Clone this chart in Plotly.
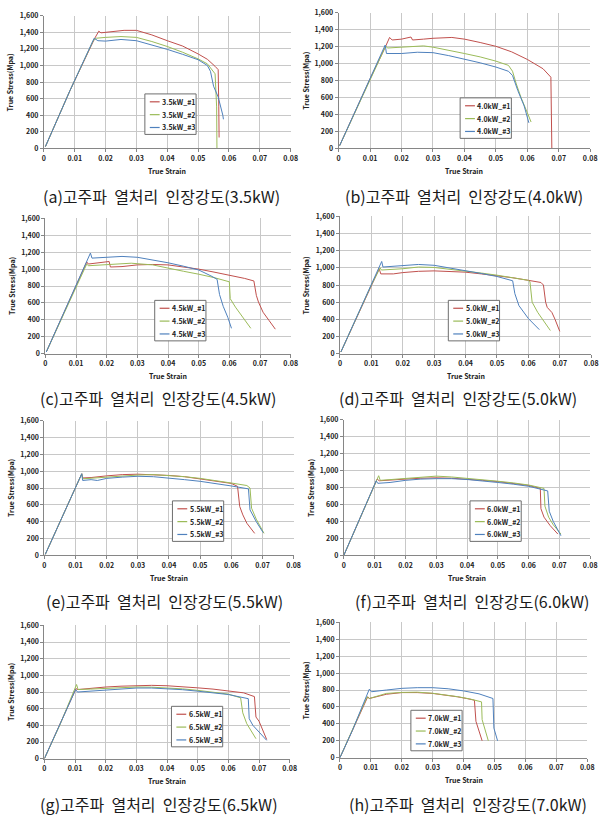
import plotly.graph_objects as go

# ---------------- data ----------------
panel_labels = ["(a)", "(b)", "(c)", "(d)", "(e)", "(f)", "(g)", "(h)"]
power_labels = ["3.5kW", "4.0kW", "4.5kW", "5.0kW", "5.5kW", "6.0kW", "6.5kW", "7.0kW"]
specimen_labels = ["#1", "#2", "#3"]
x_ticks = [0, 0.01, 0.02, 0.03, 0.04, 0.05, 0.06, 0.07, 0.08]
y_ticks = [0, 200, 400, 600, 800, 1000, 1200, 1400, 1600]
x_title = "True Strain"
y_title = "True Stress(Mpa)"

# 3.5 kW
strain_35_1 = [0.0005, 0.008, 0.0085, 0.0165, 0.0178, 0.0185, 0.022, 0.026, 0.030, 0.035, 0.040, 0.045, 0.050, 0.053, 0.0555, 0.0565, 0.0567, 0.0568]
stress_35_1 = [20, 650, 700, 1330, 1415, 1395, 1405, 1425, 1425, 1370, 1300, 1235, 1140, 1075, 990, 950, 500, 130]
strain_35_2 = [0.0005, 0.008, 0.0085, 0.016, 0.017, 0.02, 0.025, 0.03, 0.035, 0.04, 0.045, 0.05, 0.053, 0.0555, 0.056, 0.0561]
stress_35_2 = [20, 650, 700, 1300, 1330, 1340, 1350, 1340, 1290, 1230, 1160, 1080, 1020, 900, 500, 0]
strain_35_3 = [0.0005, 0.008, 0.0085, 0.0163, 0.0175, 0.02, 0.025, 0.03, 0.035, 0.04, 0.045, 0.05, 0.053, 0.054, 0.055, 0.0565, 0.058, 0.0582]
stress_35_3 = [20, 650, 700, 1330, 1300, 1295, 1315, 1300, 1250, 1195, 1135, 1070, 1000, 930, 750, 620, 400, 350]

# 4.0 kW
strain_40_1 = [0.0003, 0.005, 0.01, 0.015, 0.0162, 0.017, 0.02, 0.023, 0.0235, 0.027, 0.03, 0.036, 0.04, 0.045, 0.05, 0.055, 0.06, 0.065, 0.0675, 0.0678]
stress_40_1 = [30, 420, 820, 1210, 1310, 1280, 1290, 1315, 1280, 1290, 1300, 1310, 1290, 1250, 1205, 1140, 1050, 940, 840, 0]
strain_40_2 = [0.0003, 0.01, 0.015, 0.0155, 0.02, 0.027, 0.03, 0.035, 0.04, 0.045, 0.05, 0.054, 0.0553, 0.0565, 0.058, 0.06, 0.0612]
stress_40_2 = [30, 820, 1210, 1185, 1195, 1210, 1195, 1160, 1120, 1080, 1030, 980, 910, 760, 600, 420, 310]
strain_40_3 = [0.0003, 0.01, 0.0148, 0.0152, 0.02, 0.025, 0.03, 0.035, 0.04, 0.045, 0.05, 0.054, 0.0553, 0.057, 0.059, 0.0605]
stress_40_3 = [30, 820, 1220, 1120, 1120, 1135, 1130, 1095, 1055, 1010, 960, 910, 860, 680, 500, 300]

# 4.5 kW
strain_45_1 = [0.0003, 0.005, 0.01, 0.0135, 0.014, 0.02, 0.0208, 0.0212, 0.025, 0.03, 0.035, 0.04, 0.045, 0.05, 0.055, 0.06, 0.065, 0.068, 0.0688, 0.0695, 0.071, 0.073, 0.075]
stress_45_1 = [20, 400, 800, 1085, 1060, 1085, 1090, 1025, 1030, 1050, 1055, 1050, 1025, 1000, 965, 930, 890, 860, 690, 610, 490, 390, 290]
strain_45_2 = [0.0003, 0.01, 0.0135, 0.014, 0.02, 0.025, 0.028, 0.035, 0.04, 0.045, 0.05, 0.055, 0.06, 0.0603, 0.062, 0.064, 0.067]
stress_45_2 = [20, 800, 1060, 1040, 1050, 1060, 1070, 1050, 1010, 975, 940, 900, 850, 650, 550, 450, 300]
strain_45_3 = [0.0003, 0.01, 0.0147, 0.0152, 0.02, 0.025, 0.03, 0.035, 0.04, 0.045, 0.05, 0.054, 0.056, 0.0568, 0.058, 0.0595, 0.0607]
stress_45_3 = [20, 800, 1190, 1130, 1140, 1150, 1140, 1110, 1075, 1035, 990, 920, 880, 700, 560, 430, 300]

# 5.0 kW
strain_50_1 = [0.0003, 0.005, 0.01, 0.0125, 0.013, 0.017, 0.02, 0.025, 0.03, 0.035, 0.04, 0.045, 0.05, 0.055, 0.06, 0.064, 0.0648, 0.0655, 0.066, 0.0675, 0.0685, 0.07]
stress_50_1 = [20, 400, 800, 990, 930, 930, 945, 960, 965, 960, 950, 930, 910, 885, 855, 830, 800, 600, 540, 480, 400, 260]
strain_50_2 = [0.0003, 0.01, 0.0128, 0.0132, 0.02, 0.025, 0.03, 0.035, 0.04, 0.045, 0.05, 0.055, 0.06, 0.0605, 0.0612, 0.063, 0.065, 0.067]
stress_50_2 = [20, 800, 1000, 975, 990, 1010, 1005, 985, 960, 940, 915, 885, 855, 840, 600, 480, 380, 270]
strain_50_3 = [0.0003, 0.01, 0.0133, 0.0137, 0.017, 0.02, 0.025, 0.03, 0.035, 0.04, 0.045, 0.05, 0.055, 0.0557, 0.057, 0.06, 0.0635]
stress_50_3 = [20, 800, 1075, 1010, 1020, 1030, 1040, 1030, 1000, 970, 935, 900, 850, 700, 560, 410, 280]

# 5.5 kW
strain_55_1 = [0.0003, 0.005, 0.01, 0.012, 0.0123, 0.015, 0.02, 0.025, 0.03, 0.035, 0.04, 0.045, 0.05, 0.055, 0.06, 0.062, 0.0627, 0.0637, 0.065, 0.0675]
stress_55_1 = [10, 400, 800, 970, 920, 925, 945, 960, 965, 960, 950, 935, 910, 885, 855, 820, 580, 480, 380, 260]
strain_55_2 = [0.0003, 0.01, 0.012, 0.0123, 0.02, 0.025, 0.03, 0.035, 0.04, 0.045, 0.05, 0.055, 0.06, 0.065, 0.066, 0.0665, 0.068, 0.0705]
stress_55_2 = [10, 800, 970, 910, 930, 945, 955, 960, 950, 935, 915, 890, 860, 830, 800, 560, 430, 260]
strain_55_3 = [0.0003, 0.01, 0.012, 0.0123, 0.015, 0.017, 0.02, 0.025, 0.03, 0.035, 0.04, 0.045, 0.05, 0.055, 0.06, 0.0655, 0.066, 0.068, 0.0702]
stress_55_3 = [10, 800, 970, 890, 900, 890, 915, 930, 940, 935, 920, 900, 880, 855, 825, 790, 540, 400, 270]

# 6.0 kW
strain_60_1 = [0, 0.005, 0.0108, 0.0115, 0.015, 0.02, 0.025, 0.03, 0.035, 0.04, 0.045, 0.05, 0.055, 0.06, 0.0638, 0.064, 0.065, 0.067, 0.0695]
stress_60_1 = [0, 420, 900, 880, 885, 900, 910, 915, 910, 900, 885, 870, 850, 825, 790, 550, 450, 350, 250]
strain_60_2 = [0, 0.005, 0.0113, 0.0118, 0.015, 0.02, 0.025, 0.03, 0.035, 0.04, 0.045, 0.05, 0.055, 0.06, 0.065, 0.0653, 0.0665, 0.068, 0.0705]
stress_60_2 = [0, 420, 940, 885, 895, 910, 925, 935, 925, 910, 895, 875, 855, 830, 790, 580, 450, 360, 250]
strain_60_3 = [0, 0.005, 0.0105, 0.011, 0.015, 0.02, 0.025, 0.03, 0.035, 0.04, 0.045, 0.05, 0.055, 0.06, 0.0662, 0.0667, 0.068, 0.0705]
stress_60_3 = [0, 420, 880, 850, 860, 885, 900, 905, 905, 895, 880, 860, 840, 815, 760, 520, 400, 230]

# 6.5 kW
strain_65_1 = [0, 0.005, 0.0103, 0.011, 0.015, 0.02, 0.025, 0.03, 0.035, 0.04, 0.045, 0.05, 0.055, 0.06, 0.065, 0.0685, 0.069, 0.07, 0.0725]
stress_65_1 = [0, 400, 840, 830, 845, 860, 870, 878, 880, 875, 865, 850, 835, 815, 790, 745, 500, 450, 230]
strain_65_2 = [0, 0.005, 0.0105, 0.011, 0.015, 0.02, 0.025, 0.03, 0.035, 0.04, 0.045, 0.05, 0.055, 0.06, 0.064, 0.0647, 0.066, 0.069]
stress_65_2 = [0, 400, 890, 830, 835, 845, 855, 860, 858, 850, 838, 820, 800, 775, 730, 550, 420, 240]
strain_65_3 = [0, 0.005, 0.0102, 0.0108, 0.015, 0.02, 0.025, 0.03, 0.035, 0.04, 0.045, 0.05, 0.055, 0.06, 0.0665, 0.0668, 0.068, 0.0725]
stress_65_3 = [0, 400, 830, 800, 810, 825, 840, 848, 848, 840, 828, 810, 790, 770, 720, 480, 400, 220]

# 7.0 kW
strain_70_1 = [0, 0.004, 0.009, 0.0095, 0.012, 0.015, 0.02, 0.025, 0.03, 0.035, 0.038, 0.041, 0.0435, 0.044, 0.045, 0.046]
stress_70_1 = [0, 320, 720, 700, 720, 750, 770, 770, 760, 740, 720, 700, 680, 430, 300, 200]
strain_70_2 = [0, 0.004, 0.0088, 0.0095, 0.012, 0.015, 0.02, 0.025, 0.03, 0.035, 0.038, 0.042, 0.0458, 0.046, 0.047, 0.048]
stress_70_2 = [0, 320, 720, 700, 730, 760, 772, 775, 762, 740, 722, 695, 660, 450, 330, 200]
strain_70_3 = [0, 0.004, 0.0095, 0.0102, 0.015, 0.02, 0.025, 0.03, 0.035, 0.04, 0.045, 0.0495, 0.0498, 0.051]
stress_70_3 = [0, 320, 810, 780, 800, 820, 828, 828, 815, 790, 755, 700, 350, 200]

panel_series = [
    [(strain_35_1, stress_35_1), (strain_35_2, stress_35_2), (strain_35_3, stress_35_3)],
    [(strain_40_1, stress_40_1), (strain_40_2, stress_40_2), (strain_40_3, stress_40_3)],
    [(strain_45_1, stress_45_1), (strain_45_2, stress_45_2), (strain_45_3, stress_45_3)],
    [(strain_50_1, stress_50_1), (strain_50_2, stress_50_2), (strain_50_3, stress_50_3)],
    [(strain_55_1, stress_55_1), (strain_55_2, stress_55_2), (strain_55_3, stress_55_3)],
    [(strain_60_1, stress_60_1), (strain_60_2, stress_60_2), (strain_60_3, stress_60_3)],
    [(strain_65_1, stress_65_1), (strain_65_2, stress_65_2), (strain_65_3, stress_65_3)],
    [(strain_70_1, stress_70_1), (strain_70_2, stress_70_2), (strain_70_3, stress_70_3)],
]

# ---------------- layout constants ----------------
W, H = 610, 819
colors = ["#C0504D", "#9BBB59", "#4F81BD"]
# plot-area boxes in pixels: left, right, top, bottom
boxes = [
    (42.5, 293, 10, 144), (341.7, 597, 7, 144),
    (44, 293, 215, 352), (343, 598, 213, 352),
    (43, 296, 420, 556), (347, 597, 419, 556),
    (43, 292, 627, 762), (343, 594, 624, 761),
]
# legend box top-left corners in pixels
legend_pos = [(145, 89), (465, 93), (155, 298), (453, 298),
              (173, 501), (475, 501), (172, 709), (415, 713)]
LEG_W, LEG_H = 52, 41
LEG_ROWS = [8, 21, 34]
# caption centres in pixels
caption_pos = [(162, 192), (469, 192), (158, 397), (463, 397),
               (165, 602), (477, 602), (159, 808), (473, 808)]

FONT = "Noto Sans CJK KR, Noto Sans"
tick_font = dict(family=FONT, size=7, color="#222222", weight="bold")
title_font = dict(family=FONT, size=7, color="#222222", weight="bold")
legend_font = dict(family=FONT, size=7, color="#222222", weight="bold")


def px(x):
    return x / W


def py(y):
    return 1 - y / H


fig = go.Figure()
layout = dict(
    width=W, height=H, margin=dict(l=0, r=0, t=0, b=0),
    paper_bgcolor="white", plot_bgcolor="white",
    showlegend=False, annotations=[], shapes=[],
)
NB = "\u00a0"

for i in range(8):
    n = "" if i == 0 else str(i + 1)
    l, r, t, b = boxes[i]
    axis_common = dict(
        showgrid=True, gridcolor="#c8c8c8", gridwidth=1,
        showline=True, linecolor="#868686", linewidth=1,
        ticks="outside", ticklen=3, tickcolor="#868686",
        tickfont=tick_font, zeroline=False,
    )
    layout["xaxis" + n] = dict(
        domain=[px(l), px(r)], range=[0, 0.08], anchor="y" + n,
        tickmode="array", tickvals=x_ticks,
        ticktext=[("0" if v == 0 else f"{v:.2f}") for v in x_ticks],
        **axis_common,
    )
    layout["yaxis" + n] = dict(
        domain=[py(b), py(t)], range=[0, 1600], anchor="x" + n,
        tickmode="array", tickvals=y_ticks, ticktext=[f"{v:,}" for v in y_ticks],
        **axis_common,
    )

    for k, (sx, sy) in enumerate(panel_series[i]):
        fig.add_trace(go.Scatter(
            x=sx, y=sy, mode="lines",
            line=dict(color=colors[k], width=1),
            name=f"{power_labels[i]}_{specimen_labels[k]}",
            xaxis="x" + n, yaxis="y" + n,
        ))

    # axis titles
    layout["annotations"].append(dict(
        x=px((l + r) / 2), y=py(b + 23), xref="paper", yref="paper",
        xanchor="center", yanchor="middle", showarrow=False,
        text=x_title, font=title_font,
    ))
    layout["annotations"].append(dict(
        x=px(l - 34), y=py((t + b) / 2), xref="paper", yref="paper",
        xanchor="center", yanchor="middle", showarrow=False, textangle=-90,
        text=y_title, font=title_font,
    ))

    # legend box
    lx, ly = legend_pos[i]
    layout["shapes"].append(dict(
        type="rect", xref="paper", yref="paper",
        x0=px(lx), x1=px(lx + LEG_W), y0=py(ly + LEG_H), y1=py(ly),
        fillcolor="white", line=dict(color="#6e6e6e", width=1), layer="above",
    ))
    for k in range(3):
        yy = ly + LEG_ROWS[k]
        layout["shapes"].append(dict(
            type="line", xref="paper", yref="paper",
            x0=px(lx + 5), x1=px(lx + 15), y0=py(yy), y1=py(yy),
            line=dict(color=colors[k], width=1.2), layer="above",
        ))
        layout["annotations"].append(dict(
            x=px(lx + 15.5), y=py(yy), xref="paper", yref="paper",
            xanchor="left", yanchor="middle", showarrow=False,
            text=f"{power_labels[i]}_{specimen_labels[k]}", font=legend_font,
        ))

    # caption
    cx, cy = caption_pos[i]
    layout["annotations"].append(dict(
        x=px(cx), y=py(cy), xref="paper", yref="paper",
        xanchor="center", yanchor="middle", showarrow=False,
        text=f"{panel_labels[i]}고주파 {NB}열처리 {NB}인장강도({power_labels[i]})",
        font=dict(family="Noto Sans CJK KR", size=16, color="#1a1a1a"),
    ))

fig.update_layout(**layout)
fig.write_html("out.html")
